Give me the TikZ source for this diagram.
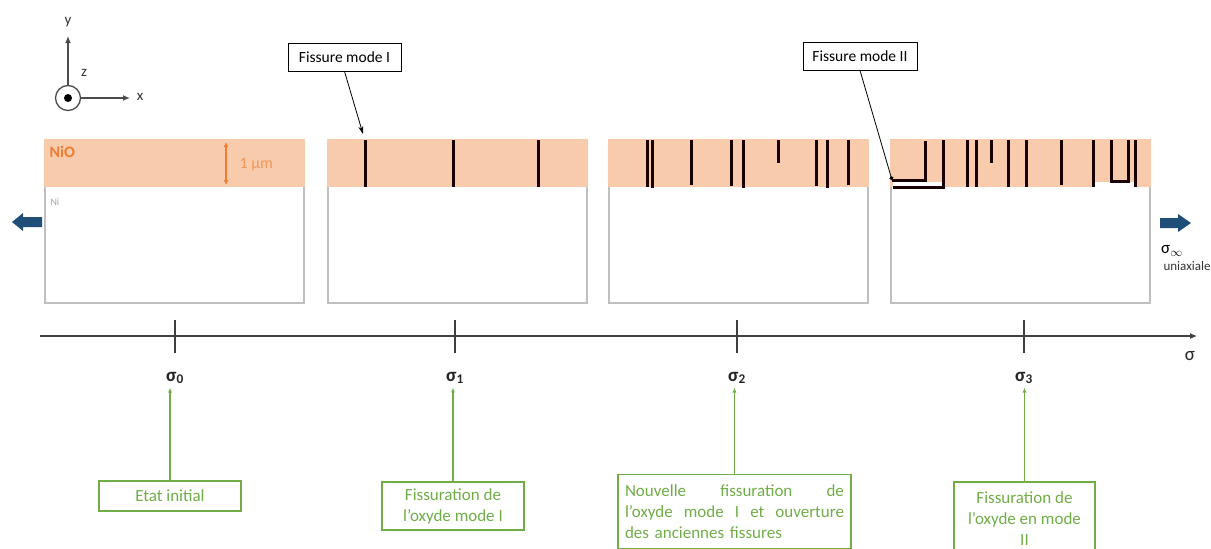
\documentclass[tikz,border=0pt]{standalone}
\usepackage{fontspec}
\setmainfont{Carlito}
\usetikzlibrary{arrows.meta,positioning}
\definecolor{oxyde}{RGB}{248,203,173}
\definecolor{oxydeText}{RGB}{237,125,49}
\definecolor{stepGreen}{RGB}{112,173,71}
\definecolor{loadBlue}{RGB}{31,78,121}
\definecolor{frameGray}{RGB}{191,191,191}
\tikzset{
myPanel/.style={draw=frameGray,line width=1.2pt}
, myOxide/.style={fill=oxyde,draw=none}
, myCrack/.style={line width=3pt,color=black!90!red}
, myCallout/.style={
	draw,thick,fill=white,inner sep=4pt,
	minimum height=28,font=\fontsize{15.5}{18}\selectfont
}
, myPointer/.style={thick,-{Stealth[length=8pt,width=5pt]}}
, myPointerDot/.style={thick,-{Circle[length=4pt]}}
, myStepBox/.style={
	draw=stepGreen,line width=1.2pt,text=stepGreen,
	font=\fontsize{17}{21}\selectfont,align=center,inner sep=6pt
}
, myStepArrow/.style={draw=stepGreen,line width=1.2pt,-{Latex[length=5pt,width=4pt]}}
, mySigma/.style={font=\fontsize{19}{22}\selectfont\bfseries,text=black!85}
, myAxis/.style={line width=1.1pt,color=black!75}
, myFrame/.style={line width=1.3pt,color=black!70}
, myAxisLabel/.style={font=\fontsize{15}{17}\selectfont,text=black!80}
}

\begin{document}
\begin{tikzpicture}[x=1pt,y=-1pt]
	\useasboundingbox (0,0) rectangle (1211,549);
	% repere
	\node[draw,circle,myFrame,minimum size=25,inner sep=0pt] (zAxis) at (68,98) {};
	\fill[black] (zAxis.center) circle (4);
	\coordinate (yTip) at (68,36);
	\coordinate (xTip) at (130,98);
	\draw[myFrame,-{Latex[length=7pt,width=6pt]}] (zAxis.north) -- (yTip);
	\draw[myFrame,-{Latex[length=7pt,width=6pt]}] (zAxis.east) -- (xTip);
	\node[myAxisLabel] (yLabel) at (68,22) {y};
	\node[myAxisLabel] (xLabel) at (140,97) {x};
	\node[myAxisLabel] (zLabel) at (84,73) {z};
	% eprouvettes
	\foreach \px in {45,328,609,891} {
		\draw[myPanel] (\px,140) rectangle ++(259,163);
		\fill[myOxide] (\px-0.6,139.4) rectangle ++(260.2,47.6);
	}
	\node[anchor=west,text=oxydeText,font=\fontsize{16}{18}\selectfont\bfseries] (nioLabel) at (46,152) {NiO};
	\node[anchor=west,text=black!35,font=\fontsize{10}{12}\selectfont] (niLabel) at (47,202) {Ni};
	\draw[oxydeText,line width=1.3pt,{Latex[length=5pt,width=5pt]}-{Latex[length=5pt,width=5pt]}] (226,142) -- (226,185);
	\node[anchor=west,text=oxydeText!80,font=\fontsize{16}{18}\selectfont] (thickLabel) at (236,165) {1 µm};
	% fissures sigma 1
	\foreach \cx in {365,453,538}
		\draw[myCrack] (\cx,140) -- (\cx,187);
	% fissures sigma 2
	\foreach \cx/\cy in {647/187,652/188,691/185,731/186,743/188,778/163,816/186,827/188,848/185}
		\draw[myCrack] (\cx,140) -- (\cx,\cy);
	% fissures sigma 3
	\fill[white] (893,181.5) rectangle (943,186);
	\fill[white] (1094,182) rectangle (1135,187);
	\draw[myCrack] (925,141) -- (925,180) -- (892,180);
	\draw[myCrack] (943,140) -- (943,187) -- (893,187);
	\draw[myCrack] (1111,140) -- (1111,181) -- (1128,181) -- (1128,140);
	\foreach \cx/\cy in {967/187,976/187,991/163,1008/187,1026/187,1061/185,1093/187,1135/187}
		\draw[myCrack] (\cx,140) -- (\cx,\cy);
	% chargement
	\fill[loadBlue] (42,217) -- (23,217) -- (23,213) -- (12,222) -- (23,231) -- (23,227) -- (42,227) -- cycle;
	\fill[loadBlue] (1160,218) -- (1178,218) -- (1178,214) -- (1191,223) -- (1178,232) -- (1178,228) -- (1160,228) -- cycle;
	\node[font=\fontsize{17}{19}\selectfont] (sigInf) at (1172,251) {σ\textsubscript{$\infty$}};
	\node[anchor=west,font=\fontsize{13}{15}\selectfont,text=black!80] (uniax) at (1160,266) {uniaxiale};
	% legendes fissures
	\node[myCallout,minimum width=113] (fissI) at (344.5,57) {Fissure mode I};
	\coordinate (crackI) at (363,134);
	\draw[myPointer] (fissI.south) -- (crackI);
	\node[myCallout,minimum width=114] (fissII) at (860,56) {Fissure mode II};
	\coordinate (crackII) at (892,180);
	\draw[myPointerDot] (fissII.south) -- (crackII);
	% axe sigma
	\coordinate (axisStart) at (40,336);
	\coordinate (axisEnd) at (1197,336);
	\draw[myAxis,-{Latex[length=7pt,width=6pt]}] (axisStart) -- (axisEnd);
	\node[font=\fontsize{19}{22}\selectfont,text=black!85] (sigma) at (1190,356) {σ};
	\foreach \x/\i in {175/0,455/1,737/2,1024/3} {
		\draw[myAxis] (\x,320) -- (\x,353);
		\node[mySigma] (sig\i) at (\x,378) {σ\textsubscript{\i}};
	}
	% etapes
	\node[myStepBox,minimum width=142,minimum height=30] (stepA) at (170,496) {Etat initial};
	\node[myStepBox,minimum width=142,minimum height=48] (stepB) at (453,506) {Fissuration de\\l'oxyde mode I};
	\node[myStepBox,minimum width=233,minimum height=74,text width=219,align=left] (stepC) at (734.5,511.5)
		{Nouvelle \hfill fissuration \hfill de\\l'oxyde \hfill mode \hfill I \hfill et \hfill ouverture\\des anciennes fissures};
	\node[myStepBox,minimum width=141,minimum height=74] (stepD) at (1024.5,519) {Fissuration de\\l'oxyde en mode\\II};
	\foreach \s/\i in {stepA/0,stepB/1,stepC/2,stepD/3}
		\draw[myStepArrow] (\s.north) -- (\s.north |- sig\i.south);
\end{tikzpicture}
\end{document}
